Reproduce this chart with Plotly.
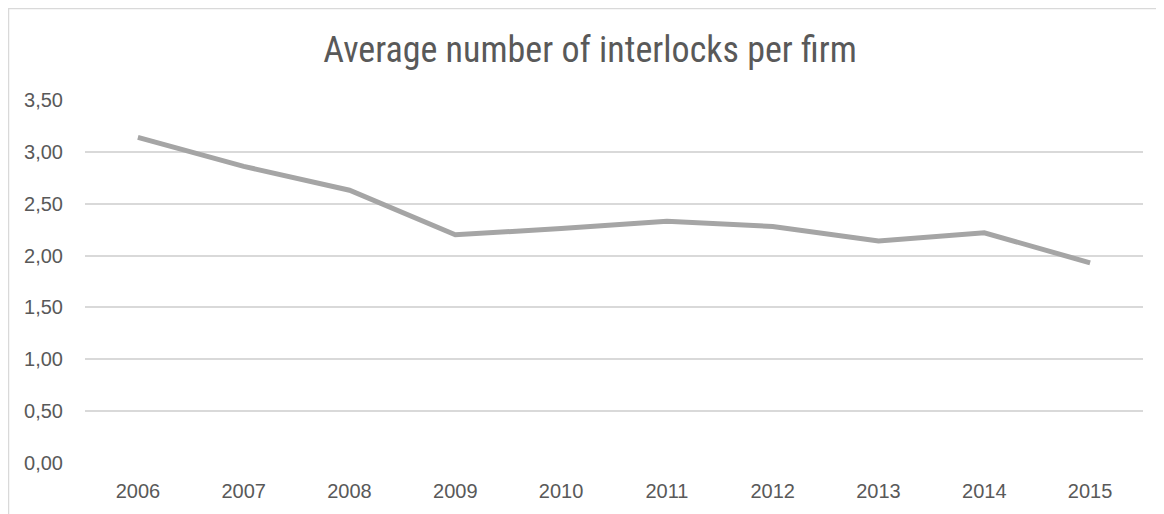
import plotly.graph_objects as go

years = ["2006", "2007", "2008", "2009", "2010", "2011", "2012", "2013", "2014", "2015"]
interlocks = [3.14, 2.86, 2.63, 2.20, 2.26, 2.33, 2.28, 2.14, 2.22, 1.93]
y_ticks = [0, 0.5, 1.0, 1.5, 2.0, 2.5, 3.0, 3.5]
y_tick_labels = ["0,00", "0,50", "1,00", "1,50", "2,00", "2,50", "3,00", "3,50"]

W, H = 1164, 514
L, R, T, B = 77, 29, 92, 59
pw, ph = W - L - R, H - T - B

def px_x(x):
    return (x - L) / pw

def px_y(y):
    return (H - B - y) / ph

fig = go.Figure(go.Scatter(
    x=years, y=interlocks, mode="lines",
    line=dict(color="#A5A5A5", width=5),
    hoverinfo="skip",
))

tick_font = dict(family="Liberation Sans, Arial", size=20, color="#595959")

fig.update_layout(
    width=W, height=H,
    margin=dict(l=L, r=R, t=T, b=B),
    paper_bgcolor="white", plot_bgcolor="white",
    showlegend=False,
    title=dict(text="Average number of interlocks per firm",
               x=0.5, xanchor="center", y=1 - 41 / H, yanchor="middle",
               font=dict(family="Roboto Condensed, Liberation Sans Narrow, Arial", size=36, color="#595959")),
    xaxis=dict(type="category", range=[-0.5, len(years) - 0.5],
               showgrid=False, zeroline=False, showline=False, ticks="",
               automargin=False, ticklabelstandoff=14,
               tickfont=tick_font),
    yaxis=dict(range=[0, 3.5], tickvals=y_ticks, ticktext=y_tick_labels,
               showgrid=True, gridcolor="#D9D9D9", gridwidth=1.5,
               zeroline=False, showline=False, ticks="",
               automargin=False, ticklabelstandoff=21,
               tickfont=tick_font),
    shapes=[
        dict(type="rect", xref="paper", yref="paper",
             x0=px_x(0.5), x1=px_x(W - 0.5), y0=px_y(H - 0.5), y1=px_y(0.5),
             line=dict(color="#D9D9D9", width=1.5), fillcolor="rgba(0,0,0,0)"),
    ],
)

fig.write_html("out.html")
